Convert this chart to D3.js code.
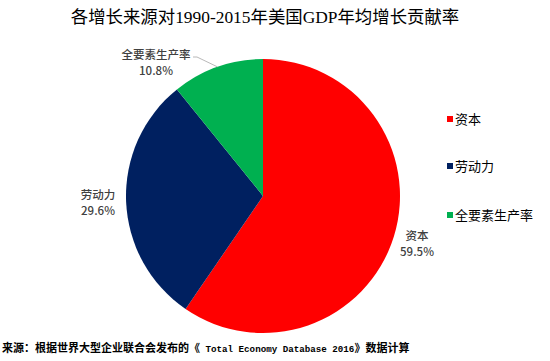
<!DOCTYPE html>
<html><head><meta charset="utf-8">
<script src="https://cdn.jsdelivr.net/npm/d3@7"></script>
<style>body{margin:0;background:#fff}svg{display:block}</style>
</head><body>
<script>
const categories = ["资本", "劳动力", "全要素生产率"];
const values = [59.5, 29.6, 10.8];
const colors = ["#FF0000", "#002060", "#00B050"];
const titleText = "各增长来源对1990-2015年美国GDP年均增长贡献率";
const sourceParts = ["来源：根据世界大型企业联合会发布的《", " Total Economy Database 2016", "》数据计算"];

const W = 550, H = 361;
const svg = d3.select("body").append("svg").attr("width", W).attr("height", H);
svg.append("rect").attr("width", W).attr("height", H).attr("fill", "#fff");

svg.append("text").attr("x", 265).attr("y", 23).attr("text-anchor", "middle")
  .attr("font-family", "'Liberation Serif','Noto Sans CJK SC',serif").attr("font-size", 17.4)
  .attr("fill", "#000").text(titleText);

const cx = 263, cy = 196, r = 137;
const pie = d3.pie().sort(null).value(d => d)(values);
const arc = d3.arc().innerRadius(0).outerRadius(r);
const g = svg.append("g").attr("transform", `translate(${cx},${cy})`);
g.selectAll("path").data(pie).join("path").attr("d", arc).attr("fill", (d, i) => colors[i]);

// labels
const labelPos = [[417, 240], [98, 199], [156, 59]];
const lf = "'Noto Sans CJK SC','Noto Sans',sans-serif";
pie.forEach((d, i) => {
  const [x, y] = labelPos[i];
  const t = svg.append("text").attr("text-anchor", "middle").attr("font-family", lf)
    .attr("font-size", 11.5).attr("fill", "#404040").attr("font-weight", 500);
  t.append("tspan").attr("x", x).attr("y", y).text(categories[i]);
  t.append("tspan").attr("x", x).attr("y", y + 16).text(values[i].toFixed(1) + "%");
});
// leader line for small slice
{
  const d = pie[2];
  const a = (d.startAngle + d.endAngle) / 2;
  const ex = cx + r * Math.sin(a), ey = cy - r * Math.cos(a);
  svg.append("polyline").attr("points", `${193},${57} ${197},${57} ${ex},${ey}`)
    .attr("fill", "none").attr("stroke", "#A6A6A6").attr("stroke-width", 0.8);
}

// legend
const leg = svg.append("g");
const legY = [119, 166, 215];
categories.forEach((c, i) => {
  leg.append("rect").attr("x", 447).attr("y", legY[i] - 3).attr("width", 6).attr("height", 6).attr("fill", colors[i]);
  leg.append("text").attr("x", 455).attr("y", legY[i] + 5).attr("font-family", lf)
    .attr("font-size", 13).attr("fill", "#000").text(c);
});

const src = svg.append("text").attr("x", 2).attr("y", 352)
  .attr("font-family", "'Noto Sans CJK SC',sans-serif").attr("font-weight", "bold")
  .attr("font-size", 11).attr("fill", "#000").attr("xml:space", "preserve");
src.append("tspan").text(sourceParts[0]);
src.append("tspan").attr("font-family", "'Liberation Mono','DejaVu Sans Mono',monospace")
  .attr("font-size", 9.2).attr("style", "white-space:pre").text(sourceParts[1]);
src.append("tspan").text(sourceParts[2]);
</script>
</body></html>
